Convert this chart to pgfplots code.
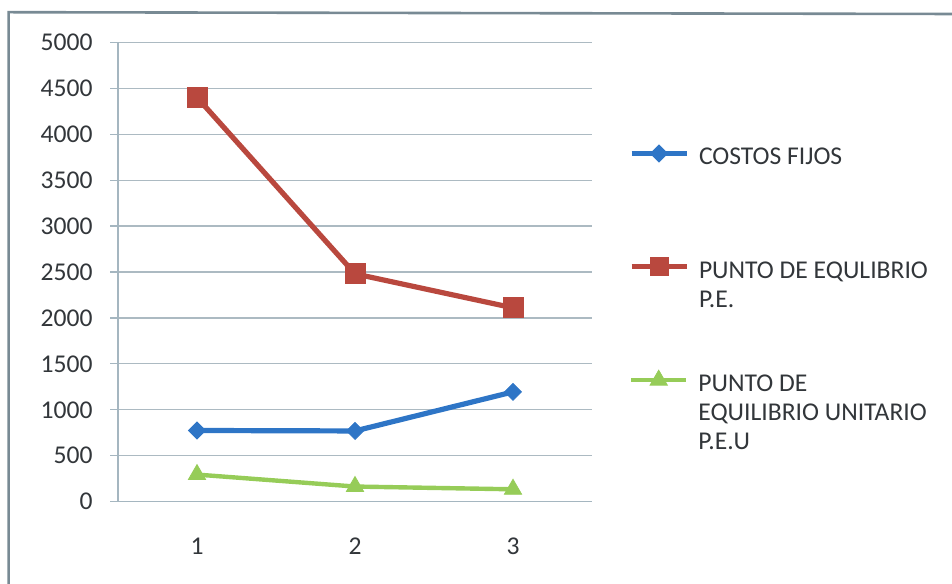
\documentclass[border=0pt]{standalone}
\usepackage{fontspec}
\setmainfont{Carlito}
\usepackage{pgfplots}
\pgfplotsset{compat=1.18}
\definecolor{cfblue}{RGB}{46,117,198}
\definecolor{pered}{RGB}{185,72,62}
\definecolor{peugreen}{RGB}{150,204,88}
\definecolor{gridcol}{RGB}{172,186,194}
\definecolor{axiscol}{RGB}{165,182,192}
\definecolor{txtcol}{RGB}{50,54,58}
\definecolor{framecol}{RGB}{120,138,148}
\newcommand{\chartfont}{\fontsize{12.8}{15}\selectfont}
\pgfplotsset{
  legimg/.style={legend image code/.code={%
    \draw[mark repeat=2,mark phase=2] plot coordinates {(0pt,0pt) (13.75pt,0pt) (27.5pt,0pt)};}},
  hiddenleg/.style={at={(0pt,0pt)}, anchor=south west, hide axis, scale only axis,
    width=476pt, height=291.5pt, xmin=0, xmax=1, ymin=0, ymax=1,
    legend cell align=left,
    legend style={draw=none, fill=none, inner sep=0pt, outer sep=0pt, row sep=0pt,
      column sep=5pt, font=\chartfont, text=txtcol, anchor=north west,
      nodes={inner sep=0pt, outer sep=0pt}}},
}
\begin{document}
\begin{tikzpicture}
\useasboundingbox (0,0) rectangle (476pt,291.5pt);
\draw[framecol, line width=1.3pt] (4.3pt,-2pt) -- (4.3pt,285.4pt) -- (478pt,284.5pt);
\begin{axis}[
  at={(59pt,40.65pt)}, anchor=south west,
  scale only axis, width=237pt, height=229.7pt,
  xmin=0.5, xmax=3.5, ymin=0, ymax=5000,
  xtick={1,2,3}, ytick={0,500,...,5000},
  extra x ticks={0.5,1.5,2.5,3.5},
  extra x tick labels={},
  extra x tick style={major tick length=4pt, tick align=outside, tick style={axiscol, line width=0.6pt}},
  major x tick style={draw=none},
  major y tick style={axiscol, line width=0.6pt},
  major tick length=4pt, tick align=outside,
  axis x line*=bottom, axis y line*=left,
  axis line style={axiscol, line width=0.7pt, -},
  ymajorgrids, grid style={gridcol, line width=0.6pt},
  /pgf/number format/assume math mode=true,
  /pgf/number format/.cd, 1000 sep={}, /pgfplots/.cd,
  ticklabel style={font=\chartfont, text=txtcol, inner sep=0pt},
  yticklabel style={anchor=east, xshift=-8.5pt},
  xticklabel style={anchor=north, yshift=-14pt},
  clip=false,
]
\addplot[cfblue, line width=2.6pt, mark=square*, mark size=3pt,
  mark options={rotate=45, solid, fill=cfblue, draw=cfblue, line width=0.4pt}]
  coordinates {(1,775) (2,770) (3,1195)};
\addplot[pered, line width=2.6pt, mark=square*, mark size=5pt,
  mark options={solid, fill=pered, draw=pered, line width=0.4pt}]
  coordinates {(1,4400) (2,2480) (3,2110)};
\addplot[peugreen, line width=2.2pt, mark=triangle*, mark size=5pt,
  mark options={solid, fill=peugreen, draw=peugreen, line width=0.4pt}]
  coordinates {(1,295) (2,165) (3,135)};
\end{axis}
% legend 1
\begin{axis}[hiddenleg, legend style={at={(629/952,{1-139/583})}}]
\addlegendimage{legimg, cfblue, line width=2.5pt, mark=square*, mark size=3pt,
  mark options={rotate=45, fill=cfblue, draw=cfblue, line width=0.4pt}}
\addlegendentry{\rule[-3.25pt]{0pt}{16.25pt}COSTOS FIJOS}
\end{axis}
% legend 2
\begin{axis}[hiddenleg, legend style={at={(629/952,{1-252.3/583})}}]
\addlegendimage{legimg, pered, line width=2.5pt, mark=square*, mark size=4.5pt,
  mark options={fill=pered, draw=pered, line width=0.4pt}}
\addlegendentry{\rule[-3.7pt]{0pt}{16.7pt}PUNTO DE EQULIBRIO}
\addlegendimage{empty legend}
\addlegendentry{\rule[-3.7pt]{0pt}{16.7pt}P.E.}
\end{axis}
% legend 3
\begin{axis}[hiddenleg, legend style={at={(629/952,{1-365.7/583})}}]
\addlegendimage{legimg, peugreen, line width=2.2pt, mark=triangle*, mark size=5pt,
  mark options={fill=peugreen, draw=peugreen, line width=0.4pt}}
\addlegendentry{\rule[-3.25pt]{0pt}{16.25pt}PUNTO DE}
\addlegendimage{empty legend}
\addlegendentry{\rule[-3.25pt]{0pt}{16.25pt}EQUILIBRIO UNITARIO}
\addlegendimage{empty legend}
\addlegendentry{\rule[-3.25pt]{0pt}{16.25pt}P.E.U}
\end{axis}
\end{tikzpicture}
\end{document}
